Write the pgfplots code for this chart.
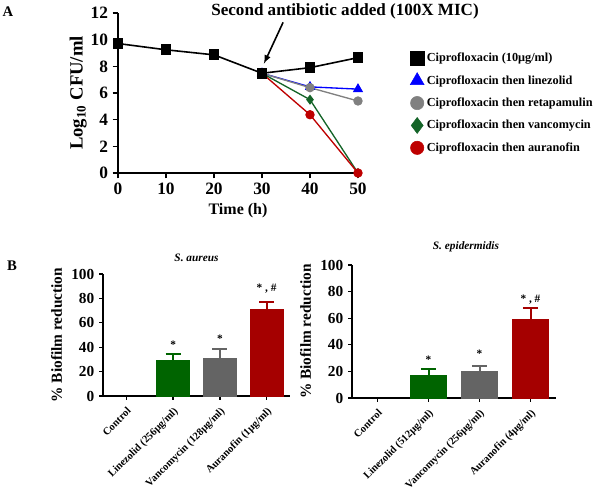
\documentclass[border=0pt]{standalone}
\usepackage{fontspec}
\setmainfont{Liberation Serif}
\usepackage{pgfplots}
\pgfplotsset{compat=1.18}
\definecolor{blueC}{RGB}{0,0,255}
\definecolor{grayC}{RGB}{128,128,128}
\definecolor{greenC}{RGB}{20,100,40}
\definecolor{redC}{RGB}{190,0,0}
\definecolor{greenB}{RGB}{0,100,0}
\definecolor{grayB}{RGB}{100,100,100}
\definecolor{redB}{RGB}{165,0,0}
\begin{document}
\begin{tikzpicture}[font=\bfseries]
\useasboundingbox (0,0) rectangle (450pt,369pt);
\node[font=\fontsize{11}{12}\bfseries] at (6pt,360pt) {A};
\node[font=\fontsize{11}{12}\bfseries] at (9pt,170pt) {B};
\begin{axis}[at={(88.5pt,239.25pt)}, anchor=south west, scale only axis,
  width=180pt, height=120pt,
  xmin=0, xmax=50, ymin=0, ymax=12,
  axis lines=left, axis line style={line width=1.5pt,-},
  tick style={line width=1.2pt,black}, tick align=outside, major tick length=4pt,
  xtick={0,10,...,50}, ytick={0,2,...,12},
  ticklabel style={font=\fontsize{13}{13}\bfseries},
  /pgf/number format/assume math mode=true,
  xlabel={Time (h)}, ylabel={Log\textsubscript{10} CFU/ml},
  label style={font=\fontsize{12}{13}\bfseries},
  ylabel style={font=\fontsize{14}{15}\bfseries, yshift=-4pt},
  clip=false,
  legend style={draw=none, fill=none, at={(1.20,0.785)}, anchor=north west,
    font=\fontsize{9.2}{10.5}\bfseries, row sep=4.8pt},
  legend cell align=left]
\addlegendimage{only marks, mark=square*, mark size=5pt, black}
\addlegendentry{Ciprofloxacin (10μg/ml)}
\addlegendimage{only marks, mark=triangle*, mark size=6pt, blueC}
\addlegendentry{Ciprofloxacin then linezolid}
\addlegendimage{only marks, mark=*, mark size=5pt, grayC}
\addlegendentry{Ciprofloxacin then retapamulin}
\addlegendimage{only marks, mark=diamond*, mark size=6pt, greenC}
\addlegendentry{Ciprofloxacin then vancomycin}
\addlegendimage{only marks, mark=*, mark size=5pt, redC}
\addlegendentry{Ciprofloxacin then auranofin}
\addplot[forget plot, blueC, line width=1pt, mark=triangle*, mark size=3.5pt] coordinates {(30,7.48) (40,6.46) (50,6.29)};
\addplot[forget plot, grayC, line width=1pt, mark=*, mark size=3pt] coordinates {(30,7.48) (40,6.4) (50,5.4)};
\addplot[forget plot, greenC, line width=1pt, mark=diamond*, mark size=3pt] coordinates {(30,7.48) (40,5.5) (50,0)};
\addplot[forget plot, redC, line width=1pt, mark=*, mark size=3pt] coordinates {(30,7.48) (40,4.37) (50,0)};
\addplot[forget plot, black, line width=1.2pt, mark=square*, mark size=3.5pt] coordinates {(0,9.71) (10,9.24) (20,8.86) (30,7.48) (40,7.9) (50,8.65)};
\node[font=\fontsize{12.8}{13}\bfseries] at (axis cs:47.3,12.1) {Second antibiotic added (100X MIC)};
\draw[-latex, line width=1.2pt] (axis cs:34.4,11.3) -- (axis cs:30.4,8.2);
\end{axis}

\pgfplotsset{bstyle/.style={anchor=south west, scale only axis,
  xmin=-0.5, xmax=3.5, ymin=0, ymax=100,
  axis lines=left, axis line style={line width=1.2pt,-},
  tick style={line width=1pt,black}, tick align=outside, major tick length=3pt,
  xtick={0,1,2,3}, ytick={0,20,...,100},
  xticklabel style={rotate=45, anchor=north east, font=\fontsize{7.9}{9}\bfseries},
  yticklabel style={font=\fontsize{11.5}{12}\bfseries},
  /pgf/number format/assume math mode=true,
  ylabel={\% Biofilm reduction}, ylabel style={font=\fontsize{11.5}{12}\bfseries},
  title style={font=\fontsize{8.5}{10}\bfseries\itshape, at={(0.5,1)}, anchor=south, yshift=0pt},
  ybar, bar shift=0pt, bar width=0.71, clip=false,
  eb/.style={error bars/.cd, y dir=plus, y explicit,
    error bar style={line width=1.5pt, ##1},
    error mark options={rotate=90, mark size=5.7pt, line width=1.5pt, ##1}}}}

\begin{axis}[bstyle, at={(77.25pt,72pt)}, width=140.25pt, height=91.5pt,
  xticklabels={Control, Linezolid (256μg/ml), Vancomycin (128μg/ml), Auranofin (1μg/ml)},
  title={S. aureus}]
\addplot[fill=greenB, draw=greenB, eb=greenB] coordinates {(1,29.2) +- (0,5.5)};
\addplot[fill=grayB, draw=grayB, eb=grayB] coordinates {(2,30.9) +- (0,7.6)};
\addplot[fill=redB, draw=redB, eb=redB] coordinates {(3,71) +- (0,6.3)};
\node[font=\fontsize{8.5}{10}\bfseries] at (axis cs:1,42) {*};
\node[font=\fontsize{8.5}{10}\bfseries] at (axis cs:2,47) {*};
\node[font=\fontsize{8.5}{10}\bfseries] at (axis cs:3,88) {* , \#};
\end{axis}

\begin{axis}[bstyle, at={(264pt,70.5pt)}, width=153pt, height=99.75pt,
  xticklabels={Control, Linezolid (512μg/ml), Vancomycin (256μg/ml), Auranofin (4μg/ml)},
  title={S. epidermidis}, title style={xshift=9pt}]
\addplot[fill=greenB, draw=greenB, eb=greenB] coordinates {(1,17.4) +- (0,4.5)};
\addplot[fill=grayB, draw=grayB, eb=grayB] coordinates {(2,20.4) +- (0,3.7)};
\addplot[fill=redB, draw=redB, eb=redB] coordinates {(3,59) +- (0,8.4)};
\node[font=\fontsize{8.5}{10}\bfseries] at (axis cs:1,29) {*};
\node[font=\fontsize{8.5}{10}\bfseries] at (axis cs:2,33) {*};
\node[font=\fontsize{8.5}{10}\bfseries] at (axis cs:3,74) {* , \#};
\end{axis}
\end{tikzpicture}
\end{document}
